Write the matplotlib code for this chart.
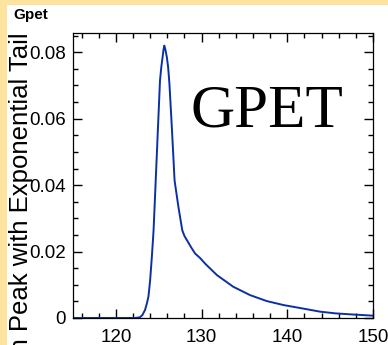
import matplotlib
matplotlib.use("Agg")
import matplotlib.pyplot as plt
import matplotlib.patches
from matplotlib.ticker import MultipleLocator

# curve
mass = [115.0, 122.2, 122.8, 123.1, 123.4, 123.6, 123.8, 124.0, 124.2, 124.4,
        124.65, 124.9, 125.15, 125.3, 125.45, 125.55, 125.65, 125.78, 125.95,
        126.1, 126.25, 126.55, 126.85, 127.3, 127.75, 128.0, 128.3, 128.8,
        129.25, 129.85, 130.4, 131.8, 133.7, 135.65, 137.6, 139.55,
        141.5, 143.85, 145.6, 147.35, 150.0]
value = [0, 0, 0.0002, 0.0009, 0.0024, 0.0042, 0.0064, 0.0114, 0.0184, 0.0264,
         0.0414, 0.0565, 0.0715, 0.0755, 0.0785, 0.0806, 0.0820, 0.0808, 0.0785,
         0.0755, 0.0705, 0.0565, 0.0414, 0.0334, 0.0264, 0.0247, 0.0234, 0.0212,
         0.0194, 0.0180, 0.0164, 0.0129, 0.0094, 0.0069, 0.0051, 0.0039,
         0.0030, 0.0019, 0.0014, 0.0011, 0.0007]

xticks = [120, 130, 140, 150]
xticklabels = ["120", "130", "140", "150"]
yticks = [0, 0.02, 0.04, 0.06, 0.08]
yticklabels = ["0", "0.02", "0.04", "0.06", "0.08"]

W, H = 388, 345
sans = ["Liberation Sans", "DejaVu Sans"]
serif = ["Liberation Serif", "DejaVu Serif"]

fig = plt.figure(figsize=(W / 100, H / 100), dpi=100)
fig.patch.set_facecolor("#fce49e")
# white pad inside the yellow canvas frame
fig.patches.append(matplotlib.patches.Rectangle(
    (7 / W, 0), 1 - 7 / W, 1 - 5 / H, transform=fig.transFigure,
    facecolor="white", edgecolor="none", zorder=-1))

ax = fig.add_axes([73 / W, 27 / H, 300 / W, 285 / H])
ax.set_zorder(2)
ax.plot(mass, value, color="#0b30a5", lw=1.4)

ax.set_xlim(115, 150)
ax.set_ylim(0, 0.0858)
ax.set_xticks(xticks, xticklabels)
ax.set_yticks(yticks, yticklabels)
ax.xaxis.set_minor_locator(MultipleLocator(2))
ax.yaxis.set_minor_locator(MultipleLocator(0.005))
ax.tick_params(which="both", direction="in", top=True, right=True, width=1, labelsize=13.5)
ax.tick_params(which="major", length=6.5)
ax.tick_params(which="minor", length=3.3)
ax.tick_params(axis="x", pad=8)
ax.tick_params(axis="y", pad=5)
for lab in ax.get_xticklabels() + ax.get_yticklabels():
    lab.set_family(sans)
for s in ax.spines.values():
    s.set_linewidth(0.9)

fig.text(21 / W, 1 - 32 / H, "Gaussian Peak with Exponential Tail", rotation=90,
         ha="center", va="top", fontsize=18.5, family=sans, zorder=1)
fig.text(13 / W, 1 - 19.3 / H, "Gpet", fontsize=11, fontweight="bold",
         family=sans, va="baseline")
fig.text(190.7 / W, 1 - 126.7 / H, "GPET", fontsize=44, family=serif, va="baseline",
         zorder=3)

fig.savefig("out.png", dpi=100, facecolor=fig.get_facecolor())
